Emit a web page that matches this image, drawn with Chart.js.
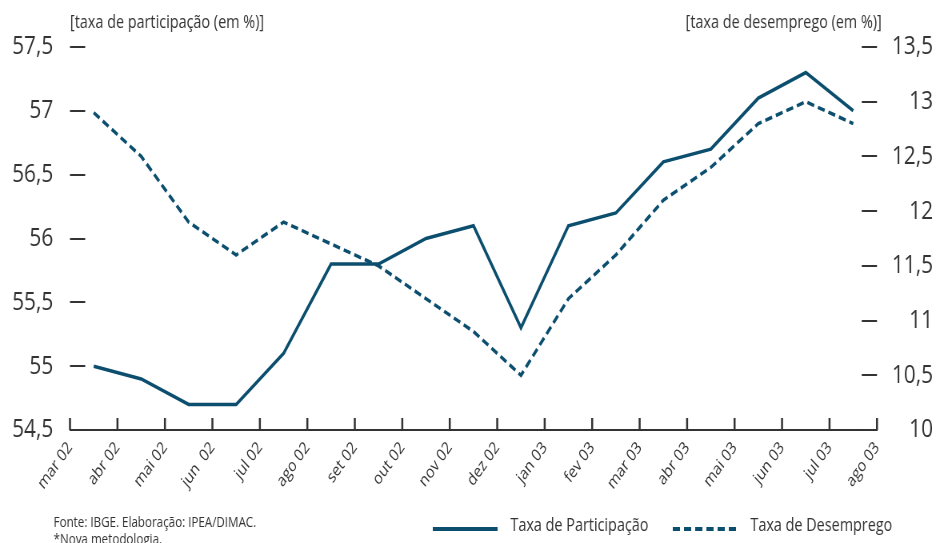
<!DOCTYPE html>
<html>
<head>
<meta charset="utf-8">
<script src="https://cdn.jsdelivr.net/npm/chart.js@4"></script>
<style>
  html, body { margin: 0; padding: 0; background: #fff; overflow: hidden; }
  /* the source is a horizontally squeezed chart: draw wide, squeeze to 936px */
  #chart { display: block; transform: scaleX(0.8); transform-origin: 0 0; }
</style>
</head>
<body>
<canvas id="chart" width="1170" height="543"></canvas>
<script>
var months = ['mar 02', 'abr 02', 'mai 02', 'jun  02', 'jul 02', 'ago 02', 'set 02', 'out 02', 'nov 02',
  'dez 02', 'jan 03', 'fev 03', 'mar 03', 'abr 03', 'mai 03', 'jun 03', 'jul 03', 'ago 03'];
var participacao = [55.0, 54.9, 54.7, 54.7, 55.1, 55.8, 55.8, 56.0, 56.1, 55.3, 56.1, 56.2, 56.6, 56.7, 57.1, 57.3, 57.0];
var desemprego = [12.9, 12.5, 11.9, 11.6, 11.9, 11.7, 11.5, 11.2, 10.9, 10.5, 11.2, 11.6, 12.1, 12.4, 12.8, 13.0, 12.8];

var FONT = "'Open Sans', 'Noto Sans', sans-serif";
var BLUE = '#0c4e6e';
var INK = '#333333';

function pts(vals) {
  return vals.map(function (v, i) { return { x: i + 0.5, y: v }; });
}
function fmt(v) {
  return String(v).replace('.', ',');
}

// inner tick marks, axis titles, legend and source note
var extras = {
  id: 'extras',
  afterDraw: function (chart) {
    var c = chart.ctx, a = chart.chartArea;
    var sx = chart.scales.x, sy = chart.scales.y, sy1 = chart.scales.y1;
    c.save();
    c.strokeStyle = INK;
    c.lineWidth = 2;
    c.beginPath();
    sy.ticks.forEach(function (t) {
      var p = Math.round(sy.getPixelForValue(t.value));
      c.moveTo(a.left, p); c.lineTo(a.left + 19, p);
    });
    sy1.ticks.forEach(function (t) {
      var p = Math.round(sy1.getPixelForValue(t.value));
      c.moveTo(a.right - 19, p); c.lineTo(a.right, p);
    });
    c.stroke();
    c.lineWidth = 2.5;
    c.beginPath();
    sx.ticks.forEach(function (t) {
      var p = sx.getPixelForValue(t.value);
      c.moveTo(p, a.bottom); c.lineTo(p, a.bottom - 12);
    });
    c.stroke();

    c.fillStyle = INK;
    c.textBaseline = 'alphabetic';
    c.font = '18px ' + FONT;
    c.textAlign = 'left';
    c.fillText('[taxa de participação (em %)]', a.left, 28);
    c.textAlign = 'right';
    c.fillText('[taxa de desemprego (em %)]', a.right + 6, 28);

    c.font = '14.5px ' + FONT;
    c.textAlign = 'left';
    c.fillText('Fonte: IBGE. Elaboração: IPEA/DIMAC.', 67, 527);
    c.fillText('*Nova metodologia.', 67, 544);

    // legend
    var starts = [541, 841];
    c.font = '18px ' + FONT;
    chart.data.datasets.forEach(function (ds, i) {
      var x0 = starts[i];
      c.beginPath();
      c.setLineDash(ds.borderDash || []);
      c.lineWidth = 4;
      c.strokeStyle = ds.borderColor;
      c.moveTo(x0, 529); c.lineTo(x0 + 81, 529);
      c.stroke();
      c.setLineDash([]);
      c.fillStyle = INK;
      c.fillText(ds.label, x0 + 97, 531);
    });
    c.restore();
  }
};

new Chart(document.getElementById('chart'), {
  type: 'line',
  data: {
    datasets: [{
      label: 'Taxa de Participação',
      data: pts(participacao),
      yAxisID: 'y',
      borderColor: BLUE,
      backgroundColor: BLUE,
      borderWidth: 3.5,
      pointRadius: 0,
      tension: 0
    }, {
      label: 'Taxa de Desemprego',
      data: pts(desemprego),
      yAxisID: 'y1',
      borderColor: BLUE,
      backgroundColor: BLUE,
      borderWidth: 3.5,
      borderDash: [9, 5],
      pointRadius: 0,
      tension: 0
    }]
  },
  options: {
    responsive: false,
    animation: false,
    layout: { padding: { top: 47, right: 3.75, left: 0, bottom: 0 } },
    plugins: {
      tooltip: { enabled: false },
      legend: { display: false }
    },
    scales: {
      x: {
        type: 'linear',
        min: 0,
        max: 17,
        grid: { display: false, drawTicks: false },
        border: { display: true, color: INK, width: 2 },
        afterFit: function (s) { s.height = 113; },
        ticks: {
          stepSize: 1,
          autoSkip: false,
          minRotation: 49,
          maxRotation: 49,
          padding: 8,
          color: INK,
          font: { family: FONT, size: 17 },
          callback: function (v) { return months[v]; }
        }
      },
      y: {
        position: 'left',
        min: 54.5,
        max: 57.5,
        grid: { display: false, drawTicks: false },
        border: { display: false },
        afterFit: function (s) { s.width = 87.5; },
        ticks: {
          stepSize: 0.5,
          padding: 21,
          color: INK,
          font: { family: FONT, size: 26 },
          callback: function (v) { return fmt(v); }
        }
      },
      y1: {
        position: 'right',
        min: 10,
        max: 13.5,
        grid: { display: false, drawTicks: false },
        border: { display: false },
        afterFit: function (s) { s.width = 70; },
        ticks: {
          stepSize: 0.5,
          padding: 20,
          crossAlign: 'far',
          color: INK,
          font: { family: FONT, size: 26 },
          callback: function (v) { return fmt(v); }
        }
      }
    }
  },
  plugins: [extras]
});
</script>
</body>
</html>
